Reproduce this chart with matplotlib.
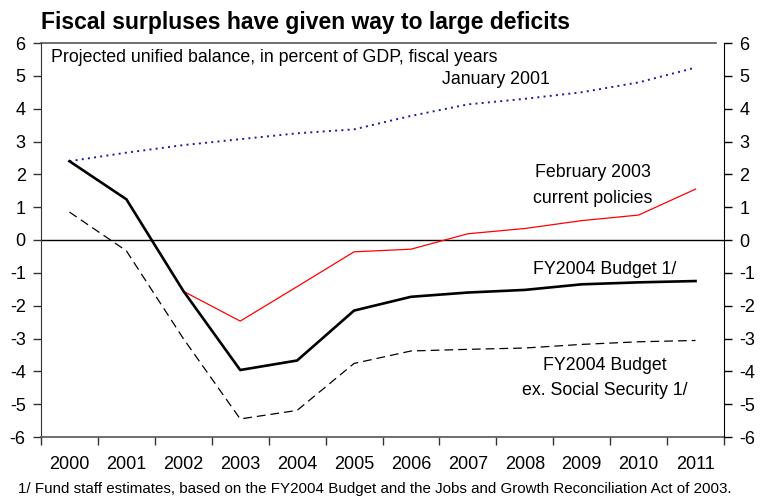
import matplotlib
matplotlib.use("Agg")
import matplotlib.pyplot as plt
import numpy as np

plt.rcParams['font.family'] = ['Liberation Sans', 'DejaVu Sans']

years = ["2000", "2001", "2002", "2003", "2004", "2005", "2006", "2007", "2008", "2009", "2010", "2011"]
jan2001 = [2.40, 2.66, 2.89, 3.07, 3.25, 3.37, 3.78, 4.13, 4.30, 4.50, 4.80, 5.25]
feb2003_years = ["2002", "2003", "2004", "2005", "2006", "2007", "2008", "2009", "2010", "2011"]
feb2003 = [-1.56, -2.47, -1.42, -0.36, -0.28, 0.19, 0.35, 0.59, 0.76, 1.55]
fy2004 = [2.40, 1.24, -1.55, -3.96, -3.67, -2.15, -1.73, -1.60, -1.52, -1.35, -1.29, -1.25]
fy2004_exss = [0.85, -0.33, -3.00, -5.45, -5.19, -3.76, -3.38, -3.33, -3.29, -3.18, -3.10, -3.06]
yticks = [6, 5, 4, 3, 2, 1, 0, -1, -2, -3, -4, -5, -6]

fig = plt.figure(figsize=(7.61, 4.96), dpi=100)
ax = fig.add_axes([41/761, (496-437)/496, (724-41)/761, (437-43)/496])

x = np.arange(len(years))
xf = np.array([years.index(y) for y in feb2003_years])

ax.axhline(0, color='black', lw=1.0, zorder=1)
ax.plot(x, jan2001, color='#1a1a9a', lw=1.4, linestyle=(0, (1, 2.2)), zorder=3)
ax.plot(xf, feb2003, color='#ff0000', lw=0.9, zorder=3)
ax.plot(x, fy2004_exss, color='black', lw=0.9, linestyle=(0, (7, 4)), zorder=3)
ax.plot(x, fy2004, color='black', lw=1.9, zorder=4)

ax.set_xlim(-0.5, len(years) - 0.5)
ax.set_ylim(-6, 6)

# x ticks: boundaries (major), labels at centers (minor)
ax.set_xticks(np.arange(len(years) + 1) - 0.5)
ax.set_xticklabels([])
ax.set_xticks(x, minor=True)
ax.set_xticklabels(years, minor=True, fontsize=13)
ax.tick_params(axis='x', which='major', direction='out', length=6, width=1, color='#333333')
ax.tick_params(axis='x', which='minor', length=0, pad=14)

ax.set_yticks(yticks)
ax.set_yticklabels([str(v) for v in yticks], fontsize=13)
ax.tick_params(axis='y', direction='out', length=6, width=1, pad=5, color='#333333')

ax2 = ax.twinx()
ax2.set_ylim(-6, 6)
ax2.set_yticks(yticks)
ax2.set_yticklabels([str(v) for v in yticks], fontsize=13)
ax2.tick_params(axis='y', direction='out', length=6, width=1, pad=5)

for a in (ax, ax2):
    a.spines['top'].set_visible(False)
ax.spines['right'].set_visible(False)
ax2.spines['left'].set_visible(False)
ax2.spines['bottom'].set_visible(False)
ax.spines['left'].set_color('#333333')
ax.spines['bottom'].set_color('#555555')
ax.spines['bottom'].set_linewidth(1.2)
ax2.spines['right'].set_color('black')

# top line
ax.plot([0, 0.988], [1, 1], transform=ax.transAxes, color='#555555', lw=1.2, clip_on=False)

# Texts
fig.text(41/761, 1 - 22/496, "Fiscal surpluses have given way to large deficits",
         fontsize=16.5, fontweight='bold', ha='left', va='center')
fs = 12.8
ax.text(10/683, 1 - 14/394, "Projected unified balance, in percent of GDP, fiscal years",
        transform=ax.transAxes, fontsize=fs, ha='left', va='center')
ax.text(7.49, 4.9, "January 2001", fontsize=fs, ha='center', va='center')
ax.text(9.2, 2.05, "February 2003", fontsize=fs, ha='center', va='center')
ax.text(9.2, 1.25, "current policies", fontsize=fs, ha='center', va='center')
ax.text(9.4, -0.9, "FY2004 Budget 1/", fontsize=fs, ha='center', va='center')
ax.text(9.4, -3.82, "FY2004 Budget", fontsize=fs, ha='center', va='center')
ax.text(9.4, -4.58, "ex. Social Security 1/", fontsize=fs, ha='center', va='center')

fig.text(375/761, 1 - 489/496,
         "1/ Fund staff estimates, based on the FY2004 Budget and the Jobs and Growth Reconciliation Act of 2003.",
         fontsize=10.9, ha='center', va='center',
         family=['Liberation Sans Narrow', 'Liberation Sans', 'DejaVu Sans'])

fig.savefig("out.png", dpi=100)
